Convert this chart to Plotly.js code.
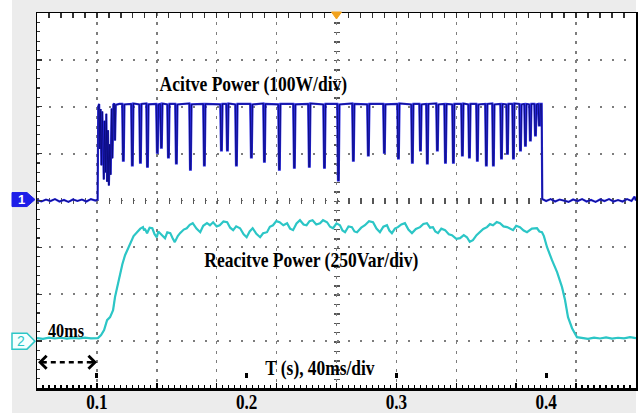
<!DOCTYPE html>
<html><head><meta charset="utf-8">
<script src="https://cdn.plot.ly/plotly-3.0.1.min.js"></script>
<style>html,body{margin:0;padding:0;background:#fff}#chart{width:641px;height:415px}</style>
</head><body><div id="chart"></div>
<script>
// x axis labels (time, s)
const TICK_VALUES = [0.1, 0.2, 0.3, 0.4];
const TICK_LABELS = ['0.1', '0.2', '0.3', '0.4'];

// Channel 1: active power (W), 100 W/div
const activeTime = [
0.0600,0.0630,0.0660,0.0690,0.0720,0.0750,0.0780,0.0810,0.0840,0.0870,0.0900,0.0930,0.0960,0.0990,0.1005,
0.1009,0.1015,0.1020,0.1025,0.1030,0.1036,0.1041,0.1046,0.1052,0.1057,0.1063,0.1068,0.1074,0.1080,0.1086,0.1092,0.1098,0.1104,0.1110,0.1116,0.1121,0.1126,0.1150,
0.1169,0.1174,0.1179,0.1184, 0.1229,0.1234,0.1239,0.1244, 0.1283,0.1288,0.1293,0.1298, 0.1330,0.1335,0.1340,0.1345,
0.1396,0.1401,0.1406,0.1411, 0.1423,0.1428,0.1433,0.1438, 0.1470,0.1475,0.1480,0.1485, 0.1523,0.1528,0.1533,0.1538,
0.1617,0.1622,0.1627,0.1632, 0.1710,0.1715,0.1720,0.1725, 0.1824,0.1829,0.1834,0.1839, 0.1864,0.1869,0.1874,0.1879,
0.1924,0.1929,0.1934,0.1939, 0.2024,0.2029,0.2034,0.2039, 0.2111,0.2116,0.2121,0.2126, 0.2211,0.2216,0.2221,0.2226,
0.2311,0.2316,0.2321,0.2326, 0.2411,0.2416,0.2421,0.2426, 0.2512,0.2517,0.2522,0.2527, 0.2605,0.2610,0.2615,0.2620,
0.2705,0.2710,0.2715,0.2720, 0.2805,0.2810,0.2815,0.2820, 0.2912,0.2917,0.2922,0.2927, 0.3006,0.3011,0.3016,0.3021,
0.3099,0.3104,0.3109,0.3114, 0.3153,0.3158,0.3163,0.3168, 0.3199,0.3204,0.3209,0.3214, 0.3266,0.3271,0.3276,0.3281,
0.3320,0.3325,0.3330,0.3335, 0.3373,0.3378,0.3383,0.3388, 0.3433,0.3438,0.3443,0.3448, 0.3480,0.3485,0.3490,0.3495,
0.3533,0.3538,0.3543,0.3548, 0.3593,0.3598,0.3603,0.3608, 0.3640,0.3645,0.3650,0.3655, 0.3694,0.3699,0.3704,0.3709,
0.3734,0.3739,0.3744,0.3749, 0.3774,0.3779,0.3784,0.3789, 0.3821,0.3826,0.3831,0.3836, 0.3854,0.3859,0.3864,0.3869,
0.3887,0.3892,0.3897,0.3902, 0.3921,0.3926,0.3931,0.3936, 0.3947,0.3952,0.3957,0.3962,
0.3970,0.3974,
0.4000,0.4030,0.4060,0.4090,0.4120,0.4150,0.4180,0.4210,0.4240,0.4270,0.4300,0.4330,0.4360,0.4390,0.4420,0.4450,0.4480,0.4510,0.4540,0.4570,0.4590,0.4600
];
const activePower = [
1,-2,2,-1,3,-2,1,-3,2,-1,2,-2,3,0,2,
200,206,110,195,75,190,140,45,170,60,185,40,150,32,120,55,196,90,205,207,128,204,206,
206,85,85,205, 206,75,75,207, 205,81,81,206, 207,72,72,205,
206,102,102,205, 206,113,113,207, 205,92,92,206, 206,79,79,205,
207,66,66,205, 206,75,75,206, 205,107,107,206, 206,107,107,207,
205,75,75,206, 206,92,92,205, 207,83,83,206, 205,66,66,206,
206,70,70,205, 206,72,72,207, 205,70,70,206, 206,43,43,205,
207,85,85,206, 205,96,96,206, 206,102,102,205, 206,90,90,207,
205,81,81,206, 206,107,107,205, 206,79,79,206, 207,107,107,205,
206,81,81,206, 205,81,81,206, 206,96,96,207, 205,92,92,206,
206,85,85,205, 206,75,75,206, 207,75,75,205, 206,90,90,206,
205,100,100,206, 206,90,90,207, 206,107,107,205, 206,117,117,206,
205,128,128,206, 206,139,139,205, 206,160,160,206,
206,3,
-1,3,-2,2,0,-3,2,-1,3,-2,1,-3,2,-1,3,-2,1,-2,3,-1,8,0
];

// Channel 2: reactive power (Var), 250 Var/div
const reactiveTime = [
0.0600,0.0640,0.0680,0.0720,0.0760,0.0800,0.0840,0.0880,0.0920,0.0960,0.1007,
0.1028,0.1048,0.1068,0.1088,0.1098,0.1108,0.1121,0.1138,0.1154,0.1170,0.1188,0.1205,0.1221,0.1245,0.1268,0.1290,0.1308,
0.1315,0.1320,0.1335,0.1352,0.1370,0.1385,0.1400,0.1410,0.1420,0.1437,0.1455,0.1470,0.1490,0.1505,0.1520,0.1540,0.1555,
0.1580,0.1600,0.1620,0.1640,0.1665,0.1690,0.1710,0.1735,0.1755,0.1776,0.1800,0.1820,0.1845,0.1870,0.1890,0.1910,0.1930,
0.1956,0.1980,0.2000,0.2020,0.2040,0.2065,0.2090,0.2110,0.2136,0.2155,0.2176,0.2198,0.2220,0.2245,0.2270,0.2290,0.2310,
0.2333,0.2356,0.2380,0.2400,0.2420,0.2440,0.2465,0.2490,0.2510,0.2537,0.2557,0.2577,0.2600,0.2623,0.2640,0.2657,0.2680,
0.2703,0.2720,0.2737,0.2765,0.2790,0.2817,0.2844,0.2867,0.2890,0.2913,0.2937,0.2953,0.2970,0.2990,0.3010,0.3033,0.3057,
0.3080,0.3104,0.3130,0.3158,0.3180,0.3204,0.3225,0.3244,0.3260,0.3278,0.3300,0.3325,0.3350,0.3371,0.3400,0.3425,0.3450,
0.3471,0.3490,0.3511,0.3535,0.3558,0.3580,0.3605,0.3625,0.3645,0.3670,0.3692,0.3715,0.3739,0.3760,0.3779,0.3800,0.3825,
0.3850,0.3872,0.3905,0.3939,0.3955,0.3972,0.3985,
0.4006,0.4039,0.4073,0.4106,0.4126,0.4146,0.4173,0.4206,0.4246,
0.4280,0.4320,0.4360,0.4400,0.4440,0.4480,0.4520,0.4560,0.4600
];
const reactivePower = [
16,12,19,14,18,13,17,14,19,15,16,
32,59,112,128,150,165,235,300,362,410,458,490,522,560,581,600,608,
590,600,575,605,602,570,554,585,576,560,549,580,576,550,528,560,576,
595,602,620,629,600,581,615,629,618,634,612,618,638,634,605,592,612,
602,570,554,585,602,572,554,575,581,610,618,640,634,618,629,600,592,
628,645,622,618,640,645,622,629,645,634,610,602,628,618,590,581,612,
608,585,581,605,618,640,634,600,581,610,618,590,576,600,608,622,629,
595,576,598,608,625,629,605,608,585,576,600,592,570,565,545,549,565,
554,530,538,565,581,598,608,624,618,635,629,612,608,600,592,615,608,
590,581,600,602,585,581,560,
501,432,368,288,219,128,69,21,16,
12,19,14,20,13,18,15,21,16
];

const FONT = 'Liberation Serif, Times New Roman, serif';
const X_RANGE = [0.06, 0.46];
const Y1_RANGE = [-400, 400];
const Y2_RANGE = [-250, 1750];

const data = [
  {x: activeTime, y: activePower, xaxis: 'x', yaxis: 'y', type: 'scatter', mode: 'lines',
   line: {color: '#2a2ae2', width: 2.2}, hoverinfo: 'skip', showlegend: false},
  {x: activeTime, y: activePower, xaxis: 'x2', yaxis: 'y', type: 'scatter', mode: 'lines',
   line: {color: '#0a0a78', width: 0.9}, hoverinfo: 'skip', showlegend: false},
  {x: reactiveTime, y: reactivePower, xaxis: 'x3', yaxis: 'y2', type: 'scatter', mode: 'lines',
   line: {color: '#2cc6c6', width: 2.2}, hoverinfo: 'skip', showlegend: false},
  {x: reactiveTime, y: reactivePower, xaxis: 'x', yaxis: 'y2', type: 'scatter', mode: 'lines',
   line: {color: '#169a9a', width: 0.6}, hoverinfo: 'skip', showlegend: false}
];

const layout = {
  width: 641, height: 415,
  margin: {l: 37, r: 5, t: 13, b: 27, pad: 0},
  paper_bgcolor: '#ffffff', plot_bgcolor: '#ffffff',
  showlegend: false,
  // bottom axis: labels, small marks above the border at labelled ticks, centre vertical tick column
  xaxis: {range: X_RANGE, tickmode: 'array', tickvals: TICK_VALUES, ticktext: TICK_LABELS,
    ticks: '', zeroline: false, showline: true, linecolor: '#000', linewidth: 2.5,
    showgrid: true, gridcolor: '#000', gridwidth: 3, griddash: '0px,360px,5px,100px',
    minor: {tickmode: 'array', tickvals: [0.26], ticks: '', showgrid: true, gridcolor: '#555',
            gridwidth: 6, griddash: '1.5px,7.88px'},
    tickfont: {family: FONT, size: 22, color: '#000', weight: 'bold'}, ticklabelstandoff: -8},
  // division grid + bottom ticks
  xaxis2: {range: X_RANGE, overlaying: 'x', anchor: 'y', side: 'bottom',
    tick0: 0.06, dtick: 0.04, showgrid: true, gridcolor: '#7d7d7d', gridwidth: 1.4, griddash: '3px,6.38px',
    zeroline: false, showticklabels: false, showline: false,
    ticks: 'inside', ticklen: 5, tickwidth: 1.5, tickcolor: '#000',
    minor: {dtick: 0.004, tick0: 0.06, ticks: 'inside', ticklen: 3, tickwidth: 1.2, tickcolor: '#000', showgrid: false}},
  // top border with ticks
  xaxis3: {range: X_RANGE, overlaying: 'x', anchor: 'y', side: 'top',
    tick0: 0.06, dtick: 0.008, ticks: 'inside', ticklen: 5, tickwidth: 1.3, tickcolor: '#333',
    showgrid: false, zeroline: false, showticklabels: false,
    showline: true, linecolor: '#000', linewidth: 1.5},
  yaxis: {range: Y1_RANGE, tick0: 0, dtick: 100, showgrid: true,
    gridcolor: '#7d7d7d', gridwidth: 1.8, griddash: '2px,9.98px',
    zeroline: false, showticklabels: false,
    showline: true, mirror: true, linecolor: '#000', linewidth: 1.5,
    ticks: 'inside', ticklen: 5, tickwidth: 1.3, tickcolor: '#333',
    minor: {dtick: 20, ticks: 'inside', ticklen: 3, tickwidth: 1.2, tickcolor: '#333', showgrid: false}},
  // reactive-power axis; its single grid line is the centre horizontal tick row
  yaxis2: {range: Y2_RANGE, overlaying: 'y', side: 'right', ticks: '', showline: false,
    zeroline: false, showticklabels: false, tickmode: 'array', tickvals: [750],
    showgrid: true, gridcolor: '#555', gridwidth: 6, griddash: '1.5px,10.48px'},
  shapes: [
    {type: 'rect', xref: 'paper', yref: 'paper', x0: -0.0417, x1: 1.0, y0: -0.0667, y1: 1.0347,
     fillcolor: '#ececec', line: {width: 0}, layer: 'below'},
    {type: 'rect', xref: 'paper', yref: 'paper', x0: 0, x1: 1, y0: 0, y1: 1,
     fillcolor: '#ffffff', line: {width: 0}, layer: 'below'},
    {type: 'line', xref: 'x', yref: 'y', x0: 0.0632, x1: 0.0972, y0: -345, y1: -345,
     line: {color: '#000', width: 2.5, dash: '5px,4px'}},
    {type: 'path', xref: 'paper', yref: 'y', xsizemode: 'pixel', ysizemode: 'pixel', xanchor: 0, yanchor: 2,
     path: 'M-25,-7 L-10,-7 L-2,0 L-10,7 L-25,7 Z', fillcolor: '#1e1ee8', line: {color: '#1e1ee8', width: 1}},
    {type: 'path', xref: 'paper', yref: 'y2', xsizemode: 'pixel', ysizemode: 'pixel', xanchor: 0, yanchor: 0,
     path: 'M-25,-8 L-10,-8 L-2,0 L-10,8 L-25,8 Z', fillcolor: '#f4ffff', line: {color: '#2cc6c6', width: 1.5}},
    {type: 'path', xref: 'x', yref: 'paper', xsizemode: 'pixel', ysizemode: 'pixel', xanchor: 0.26, yanchor: 1,
     path: 'M-5,1 L5,1 L0,-6 Z', fillcolor: '#f2a21c', line: {color: '#f2a21c', width: 1}}
  ],
  annotations: [
    {xref: 'x', yref: 'y', x: 0.2049, y: 249, text: 'Acitve Power (100W/div)', showarrow: false,
     font: {family: FONT, size: 21, color: '#000', weight: 'bold'}},
    {xref: 'x', yref: 'y', x: 0.2433, y: -126, text: 'Reacitve Power (250Var/div)', showarrow: false,
     font: {family: FONT, size: 21, color: '#000', weight: 'bold'}},
    {xref: 'x', yref: 'y', x: 0.0794, y: -279, text: '40ms', showarrow: false,
     font: {family: FONT, size: 18, color: '#000', weight: 'bold'}},
    {xref: 'x', yref: 'y', x: 0.2490, y: -358, text: 'T (s), 40ms/div', showarrow: false,
     font: {family: FONT, size: 20, color: '#000', weight: 'bold'}},
    {xref: 'x', yref: 'y', x: 0.1001, y: -345, ax: -11, ay: 0, text: ' ', showarrow: true,
     arrowhead: 4, arrowsize: 1.15, arrowwidth: 2.2, arrowcolor: '#000'},
    {xref: 'x', yref: 'y', x: 0.0607, y: -345, ax: 11, ay: 0, text: ' ', showarrow: true,
     arrowhead: 4, arrowsize: 1.15, arrowwidth: 2.2, arrowcolor: '#000'},
    {xref: 'paper', yref: 'y', x: 0, xshift: -16, y: 2, text: '1', showarrow: false, xanchor: 'center',
     font: {family: 'Liberation Sans, Arial, sans-serif', size: 13, color: '#ffffff', weight: 'bold'}},
    {xref: 'paper', yref: 'y2', x: 0, xshift: -16, y: 0, text: '2', showarrow: false, xanchor: 'center',
     font: {family: 'Liberation Sans, Arial, sans-serif', size: 14, color: '#2cc6c6'}}
  ]
};

function squeezeText(t, s) {
  const b = t.getBBox();
  const cx = b.x + b.width / 2;
  const old = t.getAttribute('transform') || '';
  t.setAttribute('transform', old + ' translate(' + cx + ',0) scale(' + s + ',1) translate(' + (-cx) + ',0)');
}

Plotly.newPlot('chart', data, layout, {staticPlot: true, displayModeBar: false}).then(function (gd) {
  const factors = [0.835, 0.835, 0.9, 0.87];
  gd.querySelectorAll('.annotation-text').forEach(function (t, i) {
    if (i < factors.length) squeezeText(t, factors[i]);
  });
  gd.querySelectorAll('.xtick text').forEach(function (t) { squeezeText(t, 0.78); });
});
</script>
</body></html>
